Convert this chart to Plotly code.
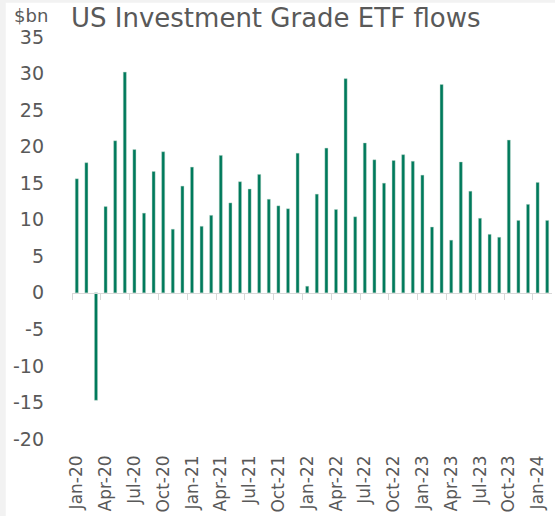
import plotly.graph_objects as go

months = ["Jan-20","Feb-20","Mar-20","Apr-20","May-20","Jun-20","Jul-20","Aug-20","Sep-20","Oct-20","Nov-20","Dec-20",
          "Jan-21","Feb-21","Mar-21","Apr-21","May-21","Jun-21","Jul-21","Aug-21","Sep-21","Oct-21","Nov-21","Dec-21",
          "Jan-22","Feb-22","Mar-22","Apr-22","May-22","Jun-22","Jul-22","Aug-22","Sep-22","Oct-22","Nov-22","Dec-22",
          "Jan-23","Feb-23","Mar-23","Apr-23","May-23","Jun-23","Jul-23","Aug-23","Sep-23","Oct-23","Nov-23","Dec-23",
          "Jan-24","Feb-24"]
flows = [15.6, 17.8, -14.7, 11.8, 20.8, 30.2, 19.6, 10.9, 16.6, 19.3, 8.7, 14.6,
         17.2, 9.1, 10.6, 18.8, 12.3, 15.2, 14.2, 16.2, 12.8, 11.9, 11.5, 19.1,
         0.9, 13.5, 19.8, 11.4, 29.3, 10.4, 20.5, 18.2, 15.0, 18.1, 18.9, 18.0,
         16.1, 9.0, 28.5, 7.2, 17.9, 13.9, 10.2, 8.0, 7.6, 20.9, 9.9, 12.1,
         15.1, 9.9]
y_ticks = [-20, -15, -10, -5, 0, 5, 10, 15, 20, 25, 30, 35]
y_tick_text = ["-20", "-15", "-10", "-5", "0", "5", "10", "15", "20", "25", "30", "35"]
title_text = "US Investment Grade ETF flows"
unit_text = "$bn"

x_idx = list(range(len(months)))
label_step = 3
label_vals = x_idx[::label_step]
label_text = months[::label_step]
boundary_vals = [i - 0.5 for i in label_vals]

ymin, ymax = y_ticks[0], y_ticks[-1]
grey = "#595959"
font_family = "DejaVu Sans, Open Sans, sans-serif"

fig = go.Figure()
fig.add_trace(go.Bar(x=x_idx, y=flows, width=0.32,
                     marker=dict(color="#007a5c", line=dict(color="#b9d3c8", width=0.4)),
                     hoverinfo="x+y"))
# invisible helper trace so the zero-line axis renders
fig.add_trace(go.Scatter(x=[x_idx[0]], y=[0], xaxis="x2", mode="markers",
                         marker=dict(opacity=0), hoverinfo="skip", showlegend=False))

fig.update_layout(
    width=555, height=516,
    margin=dict(l=72, r=3, t=37, b=75),
    paper_bgcolor="white", plot_bgcolor="white",
    showlegend=False,
    font=dict(family=font_family, color=grey),
    xaxis=dict(range=[-0.5, len(months) - 0.5], tickmode="array", tickvals=label_vals,
               ticktext=label_text, tickangle=-90, ticks="", showline=False,
               showgrid=False, zeroline=False, tickfont=dict(size=17, color=grey),
               ticklabelstandoff=12),
    xaxis2=dict(range=[-0.5, len(months) - 0.5], overlaying="x", anchor="free",
                position=(0 - ymin) / (ymax - ymin), side="bottom",
                showline=True, linecolor="#d9d9d9", linewidth=1,
                tickmode="array", tickvals=boundary_vals, ticks="outside",
                ticklen=6, tickcolor="#d9d9d9", tickwidth=1,
                showticklabels=False, showgrid=False, zeroline=False),
    yaxis=dict(range=[ymin, ymax], tickmode="array", tickvals=y_ticks, ticktext=y_tick_text,
               showgrid=False, zeroline=False, showline=False, ticks="",
               tickfont=dict(size=19, color=grey), ticklabelstandoff=27),
    annotations=[
        dict(text=unit_text, xref="paper", yref="paper", x=-0.124, y=1.054,
             xanchor="left", yanchor="middle", showarrow=False,
             font=dict(size=18, color=grey, family=font_family)),
        dict(text=title_text, xref="paper", yref="paper", x=-0.006, y=1.047,
             xanchor="left", yanchor="middle", showarrow=False,
             font=dict(size=26, color=grey, family=font_family)),
    ],
    shapes=[
        dict(type="rect", xref="paper", yref="paper", x0=-0.16, x1=-0.138, y0=-0.3, y1=1.2,
             fillcolor="#f2f2f2", line=dict(width=0), layer="below"),
        dict(type="rect", xref="paper", yref="paper", x0=-0.16, x1=1.1, y0=1.085, y1=1.2,
             fillcolor="#f2f2f2", line=dict(width=0), layer="below"),
    ],
)

fig.write_html("out.html", config={"displayModeBar": False},
               post_script="document.body.style.margin='0';document.body.style.overflow='hidden';")
